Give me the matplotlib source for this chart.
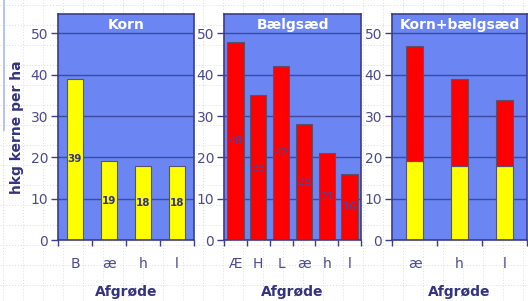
import numpy as np
import matplotlib
matplotlib.use("Agg")
import matplotlib.pyplot as plt

# data
korn_cats = ["B", "æ", "h", "l"]
korn_vals = [39, 19, 18, 18]

baelg_cats = ["Æ", "H", "L", "æ", "h", "l"]
baelg_vals = [48, 35, 42, 28, 21, 16]

mix_cats = ["æ", "h", "l"]
mix_korn = [19, 18, 18]
mix_baelg = [28, 21, 16]

titles = ["Korn", "Bælgsæd", "Korn+bælgsæd"]

panel_bg = "#6b86f2"
grid_col = "#3d4aa0"
spine_col = "#3c3c8c"
text_col = "#4b4b8c"
label_col = "#333380"
yellow = "#ffff00"
red = "#ff0000"
edge = "#5a5070"

fig = plt.figure(figsize=(5.28, 3.01), dpi=100)
fig.patch.set_facecolor("white")

# faint dotted background grid
bg = fig.add_axes([0, 0, 1, 1], zorder=-5)
bg.set_xlim(0, 528)
bg.set_ylim(301, 0)
bg.axis("off")
for x in np.arange(3, 528, 20):
    bg.axvline(x, color="#d4dcf5", lw=0.7, ls=(0, (1, 2)))
for y in np.arange(5, 301, 20):
    bg.axhline(y, color="#d4dcf5", lw=0.7, ls=(0, (1, 2)))
bg.plot([4, 4], [0, 130], color="#aab8f5", lw=1.2)

W, H = 528, 301
panels = [(58, 136), (224, 137), (392, 135)]
axes = []
for left, width in panels:
    ax = fig.add_axes([left / W, 1 - 240 / H, width / W, 226 / H])
    axes.append(ax)


def style(ax, cats, title):
    n = len(cats)
    ax.set_facecolor(panel_bg)
    ax.set_xlim(-0.5, n - 0.5)
    ax.set_ylim(0, 54.7)
    ax.set_yticks([0, 10, 20, 30, 40, 50])
    ax.yaxis.grid(True, color=grid_col, lw=1.0)
    ax.set_axisbelow(True)
    ax.set_xticks(range(n))
    ax.set_xticklabels(cats)
    ax.set_xticks(np.arange(-0.5, n, 1.0), minor=True)
    ax.tick_params(axis="x", which="major", length=0, pad=12,
                   labelsize=10, labelcolor=text_col)
    ax.tick_params(axis="x", which="minor", length=4, width=1, color=spine_col,
                   direction="out")
    ax.tick_params(axis="y", length=5, width=1, color=spine_col, pad=2,
                   labelsize=10, labelcolor=text_col)
    for s in ax.spines.values():
        s.set_color(spine_col)
        s.set_linewidth(1.2)
    ax.text(0.5, 0.951, title, transform=ax.transAxes, ha="center",
            va="center", color="white", fontsize=10, fontweight="bold")
    ax.set_xlabel("Afgrøde", fontsize=10, fontweight="bold", color=label_col,
                  labelpad=10)


# Korn
ax = axes[0]
style(ax, korn_cats, titles[0])
x = np.arange(len(korn_cats))
ax.bar(x, korn_vals, width=0.47, color=yellow, edgecolor=edge, lw=0.8)
for xi, v in zip(x, korn_vals):
    ax.text(xi, v / 2, str(v), ha="center", va="center", fontsize=7.5,
            fontweight="bold", color=label_col)
ax.set_ylabel("hkg kerne per ha", fontsize=10, fontweight="bold",
              color=label_col, labelpad=5)

# Bælgsæd
ax = axes[1]
style(ax, baelg_cats, titles[1])
x = np.arange(len(baelg_cats))
ax.bar(x, baelg_vals, width=0.72, color=red, edgecolor=edge, lw=0.8)
for xi, v in zip(x, baelg_vals):
    ax.text(xi, v / 2, str(v), ha="center", va="center", fontsize=8,
            color="#4646a8")

# Korn + bælgsæd
ax = axes[2]
style(ax, mix_cats, titles[2])
x = np.arange(len(mix_cats))
ax.bar(x, mix_korn, width=0.37, color=yellow, edgecolor=edge, lw=0.8)
ax.bar(x, mix_baelg, bottom=mix_korn, width=0.37, color=red, edgecolor=edge,
       lw=0.8)

fig.savefig("out.png", dpi=100)
